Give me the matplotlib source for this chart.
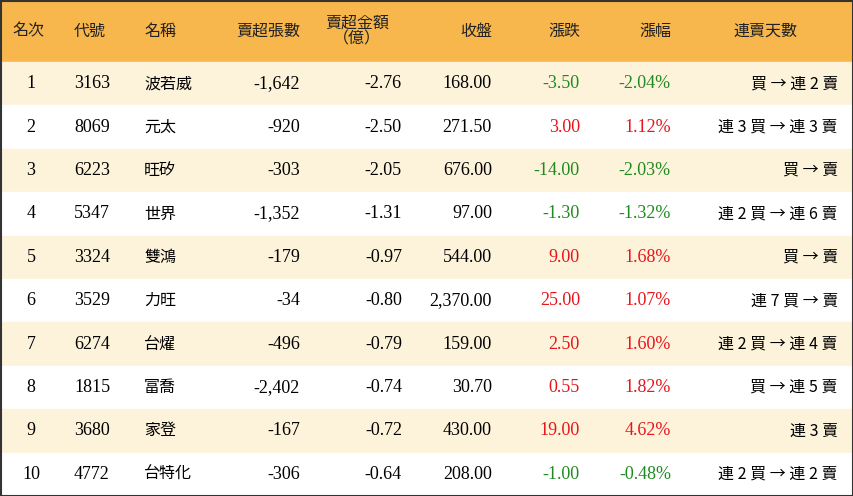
import matplotlib
matplotlib.use("Agg")
import matplotlib.pyplot as plt
from matplotlib.patches import Rectangle
from matplotlib import font_manager as fm

headers = ["名次", "代號", "名稱", "賣超張數", "賣超金額\n（億）", "收盤", "漲跌", "漲幅", "連賣天數"]
ranks = ["1", "2", "3", "4", "5", "6", "7", "8", "9", "10"]
codes = ["3163", "8069", "6223", "5347", "3324", "3529", "6274", "1815", "3680", "4772"]
names = ["波若威", "元太", "旺矽", "世界", "雙鴻", "力旺", "台燿", "富喬", "家登", "台特化"]
net_lots = ["-1,642", "-920", "-303", "-1,352", "-179", "-34", "-496", "-2,402", "-167", "-306"]
net_amt = ["-2.76", "-2.50", "-2.05", "-1.31", "-0.97", "-0.80", "-0.79", "-0.74", "-0.72", "-0.64"]
close = ["168.00", "271.50", "676.00", "97.00", "544.00", "2,370.00", "159.00", "30.70", "430.00", "208.00"]
change = ["-3.50", "3.00", "-14.00", "-1.30", "9.00", "25.00", "2.50", "0.55", "19.00", "-1.00"]
pct = ["-2.04%", "1.12%", "-2.03%", "-1.32%", "1.68%", "1.07%", "1.60%", "1.82%", "4.62%", "-0.48%"]
streak = ["買 → 連 2 賣", "連 3 買 → 連 3 賣", "買 → 賣", "連 2 買 → 連 6 賣", "買 → 賣",
          "連 7 買 → 賣", "連 2 買 → 連 4 賣", "買 → 連 5 賣", "連 3 賣", "連 2 買 → 連 2 賣"]

# locate a CJK font file
cjk_path = None
for f in fm.findSystemFonts():
    n = f.lower()
    if "notosanscjk" in n.replace("-", "").replace("_", "") or "notosanscjk" in n.replace(" ", ""):
        cjk_path = f
        if "tc" in n or "ttc" in n:
            break
if cjk_path:
    fm.fontManager.addfont(cjk_path)
    CJK = fm.FontProperties(fname=cjk_path).get_name()
else:
    CJK = "Noto Sans CJK TC"
plt.rcParams["font.family"] = ["Liberation Serif", CJK, "DejaVu Sans"]

W, H = 854, 496
fig = plt.figure(figsize=(W/100, H/100), dpi=100)
ax = fig.add_axes([0, 0, 1, 1])
ax.set_xlim(0, W); ax.set_ylim(H, 0); ax.axis("off")

HDR = 62
RH = (H - HDR) / len(ranks)
SER = "Liberation Serif"
ax.add_patch(Rectangle((0, 0), W, HDR, color="#F8B74C", zorder=0))
for i in range(len(ranks)):
    ax.add_patch(Rectangle((0, HDR + i*RH), W, RH, color="#FDF2DA" if i % 2 == 0 else "white", zorder=0))
ax.add_patch(Rectangle((0.5, 0.5), W-1, H-1, fill=False, ec="#333333", lw=1.5, zorder=3))

hpos = [(12, "left"), (74, "left"), (144, "left"), (300, "right"), (357, "center"),
        (492, "right"), (580, "right"), (671, "right"), (765, "center")]
for (x, ha), h in zip(hpos, headers):
    ax.text(x, HDR/2, h, ha=ha, va="center", fontsize=11.5, family=[CJK], color="#222222",
            linespacing=0.95)

def col(c):
    return "#1F8A1F" if c.startswith("-") else "#E8141B"

for i in range(len(ranks)):
    y = HDR + (i + 0.5) * RH
    kw = dict(va="center", fontsize=13)
    ax.text(31, y, ranks[i], ha="center", family=SER, **kw)
    ax.text(74, y, codes[i], ha="left", family=SER, **kw)
    ax.text(144, y, names[i], ha="left", family=[CJK], fontsize=11.5, va="center")
    ax.text(300, y, net_lots[i], ha="right", family=SER, **kw)
    ax.text(402, y, net_amt[i], ha="right", family=SER, **kw)
    ax.text(492, y, close[i], ha="right", family=SER, **kw)
    ax.text(580, y, change[i], ha="right", family=SER, color=col(change[i]), **kw)
    ax.text(671, y, pct[i], ha="right", family=SER, color=col(pct[i]), **kw)
    ax.text(838, y, streak[i], ha="right", family=[CJK, SER], fontsize=11.5, va="center")

fig.savefig("out.png", dpi=100)
